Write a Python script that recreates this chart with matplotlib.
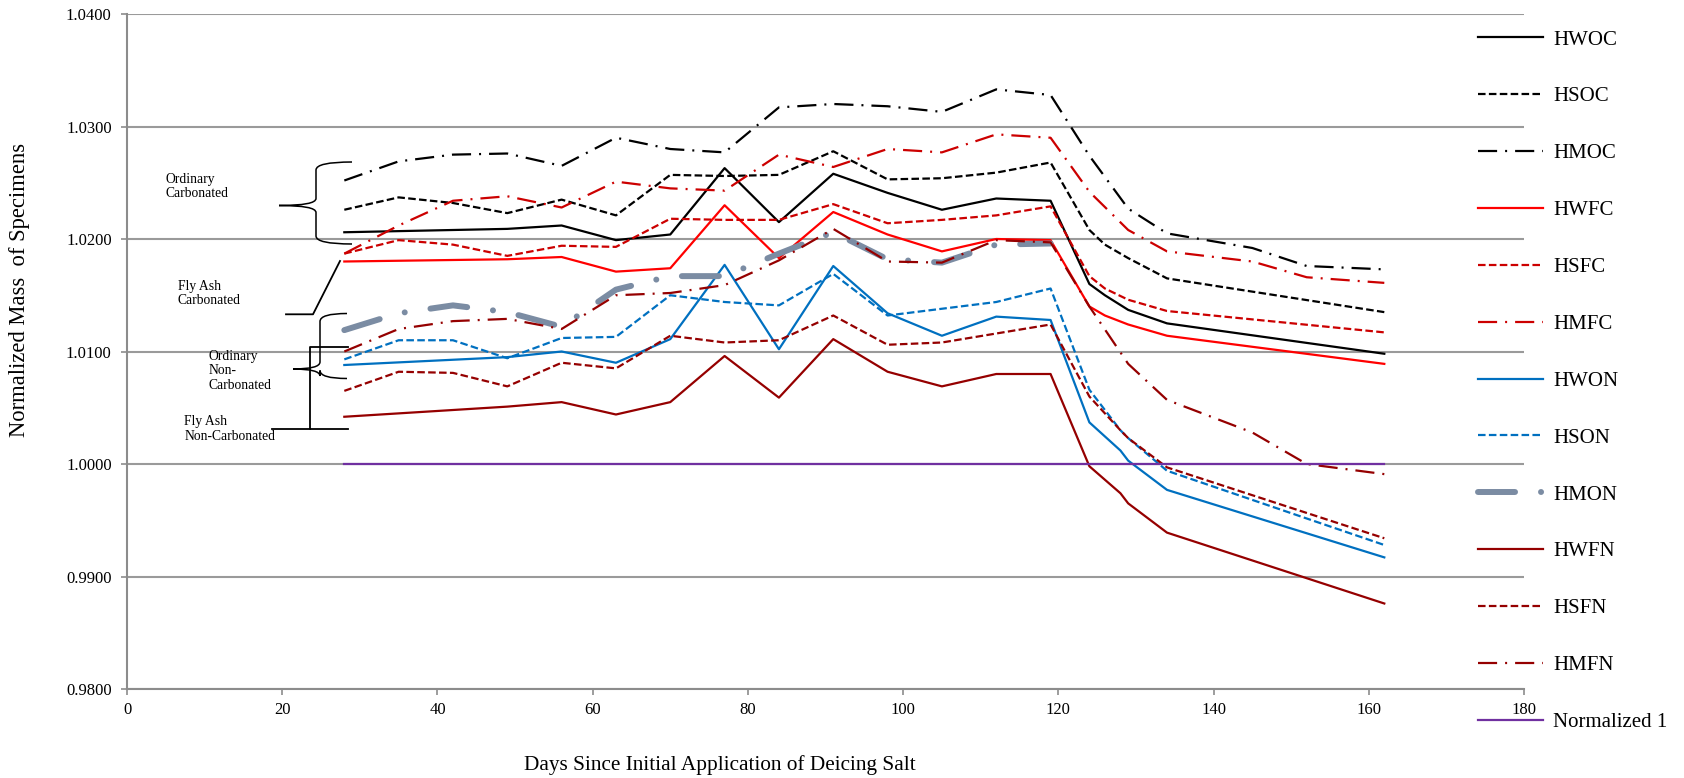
import matplotlib
matplotlib.use("Agg")
import matplotlib.pyplot as plt
import numpy as np
from matplotlib.path import Path
from matplotlib.patches import PathPatch
from matplotlib.lines import Line2D

plt.rcParams['font.family'] = ['Liberation Serif', 'DejaVu Serif']

# ---------------- data ----------------
days_wc = [28, 49, 56, 63, 70, 77, 84, 91, 98, 105, 112, 119, 124, 126, 129, 134, 162]
days_sc = [28, 35, 42, 49, 56, 63, 70, 77, 84, 91, 98, 105, 112, 119, 124, 126, 129, 134, 162]
days_m = [28, 35, 42, 49, 56, 63, 70, 77, 84, 91, 98, 105, 112, 119, 124, 129, 134, 145, 152, 162]
days_wn = [28, 49, 56, 63, 70, 77, 84, 91, 98, 105, 112, 119, 124, 128, 129, 134, 162]
days_sn = [28, 35, 42, 49, 56, 63, 70, 77, 84, 91, 98, 105, 112, 119, 124, 128, 129, 134, 162]
days_hmon = [28, 35, 42, 49, 56, 63, 70, 77, 84, 91, 98, 105, 112, 119]
days_norm = [28, 162]

HWOC = [1.0206, 1.0209, 1.0212, 1.0199, 1.0204, 1.0263, 1.0215, 1.0258, 1.0241, 1.0226, 1.0236, 1.0234,
        1.0160, 1.0150, 1.0137, 1.0125, 1.0098]
HSOC = [1.0226, 1.0237, 1.0232, 1.0223, 1.0235, 1.0221, 1.0257, 1.0256, 1.0257, 1.0278, 1.0253, 1.0254, 1.0259, 1.0268,
        1.0208, 1.0195, 1.0183, 1.0165, 1.0135]
HMOC = [1.0252, 1.0269, 1.0275, 1.0276, 1.0265, 1.0290, 1.0280, 1.0277, 1.0317, 1.0320, 1.0318, 1.0313, 1.0333, 1.0328,
        1.0274, 1.0227, 1.0205, 1.0192, 1.0176, 1.0173]
HWFC = [1.0180, 1.0182, 1.0184, 1.0171, 1.0174, 1.0230, 1.0183, 1.0224, 1.0204, 1.0189, 1.0200, 1.0199,
        1.0140, 1.0132, 1.0124, 1.0114, 1.0089]
HSFC = [1.0187, 1.0199, 1.0195, 1.0185, 1.0194, 1.0193, 1.0218, 1.0217, 1.0217, 1.0231, 1.0214, 1.0217, 1.0221, 1.0229,
        1.0167, 1.0156, 1.0146, 1.0136, 1.0117]
HMFC = [1.0187, 1.0212, 1.0234, 1.0238, 1.0228, 1.0251, 1.0245, 1.0243, 1.0275, 1.0264, 1.0280, 1.0277, 1.0293, 1.0290,
        1.0242, 1.0208, 1.0189, 1.0180, 1.0166, 1.0161]
HWON = [1.0088, 1.0095, 1.0100, 1.0090, 1.0111, 1.0177, 1.0102, 1.0176, 1.0134, 1.0114, 1.0131, 1.0128,
        1.0037, 1.0012, 1.0003, 0.9977, 0.9917]
HSON = [1.0093, 1.0110, 1.0110, 1.0094, 1.0112, 1.0113, 1.0150, 1.0144, 1.0141, 1.0169, 1.0132, 1.0138, 1.0144, 1.0156,
        1.0066, 1.0030, 1.0023, 0.9994, 0.9928]
HMON = [1.0119, 1.0134, 1.0141, 1.0135, 1.0122, 1.0155, 1.0167, 1.0167, 1.0187, 1.0206, 1.0182, 1.0179, 1.0195, 1.0196]
HWFN = [1.0042, 1.0051, 1.0055, 1.0044, 1.0055, 1.0096, 1.0059, 1.0111, 1.0082, 1.0069, 1.0080, 1.0080,
        0.9998, 0.9974, 0.9965, 0.9939, 0.9876]
HSFN = [1.0065, 1.0082, 1.0081, 1.0069, 1.0090, 1.0085, 1.0114, 1.0108, 1.0110, 1.0132, 1.0106, 1.0108, 1.0116, 1.0124,
        1.0060, 1.0030, 1.0023, 0.9997, 0.9934]
HMFN = [1.0100, 1.0120, 1.0127, 1.0129, 1.0120, 1.0150, 1.0152, 1.0159, 1.0181, 1.0209, 1.0180, 1.0179, 1.0199, 1.0197,
        1.0140, 1.0089, 1.0057, 1.0028, 1.0000, 0.9991]
NORM = [1.0, 1.0]

y_ticks = [0.98, 0.99, 1.00, 1.01, 1.02, 1.03, 1.04]
x_ticks = [0, 20, 40, 60, 80, 100, 120, 140, 160, 180]

# ---------------- styles ----------------
BLACK = '#000000'
RED = '#FF0000'
RED2 = '#CC0000'
BLUE = '#0070C0'
GRAY = '#7B8CA3'
DRED = '#950000'
PURPLE = '#7030A0'

LW = 1.6
DASH = (0, (3.4, 1.5))
DASHDOT = (0, (8.6, 3.6, 0.9, 3.6))

series = [
    ('HWOC', days_wc, HWOC, BLACK, 'solid'),
    ('HSOC', days_sc, HSOC, BLACK, DASH),
    ('HMOC', days_m, HMOC, BLACK, DASHDOT),
    ('HWFC', days_wc, HWFC, RED, 'solid'),
    ('HSFC', days_sc, HSFC, RED2, DASH),
    ('HMFC', days_m, HMFC, RED2, DASHDOT),
    ('HWON', days_wn, HWON, BLUE, 'solid'),
    ('HSON', days_sn, HSON, BLUE, DASH),
    ('HMON', days_hmon, HMON, GRAY, None),
    ('HWFN', days_wn, HWFN, DRED, 'solid'),
    ('HSFN', days_sn, HSFN, DRED, DASH),
    ('HMFN', days_m, HMFN, DRED, DASHDOT),
    ('Normalized 1', days_norm, NORM, PURPLE, 'solid'),
]

W, H = 1684, 778
fig = plt.figure(figsize=(W / 100, H / 100), dpi=100)
ax = fig.add_axes([127 / W, 1 - 689 / H, (1524 - 127) / W, (689 - 14) / H])

handles = []
for name, xs, ys, col, ls in series:
    if name == 'HMON':
        ln, = ax.plot(xs, ys, color=col, lw=4.3, solid_capstyle='round',
                      dash_capstyle='round', label=name)
        ln.set_dashes((6.2, 4.35, 0.01, 4.35))
    else:
        ln, = ax.plot(xs, ys, color=col, lw=LW, linestyle=ls, label=name)
    handles.append(ln)

ax.set_xlim(0, 180)
ax.set_ylim(0.98, 1.04)
ax.set_xticks(x_ticks)
ax.set_xticklabels([str(v) for v in x_ticks])
ax.set_yticks(y_ticks)
ax.set_yticklabels(['%.4f' % v for v in y_ticks])
ax.yaxis.grid(True, color='#9a9a9a', lw=1.5)
ax.set_axisbelow(True)
for s in ['top', 'right']:
    ax.spines[s].set_visible(False)
for s in ['left', 'bottom']:
    ax.spines[s].set_color('#8c8c8c')
    ax.spines[s].set_linewidth(1.5)
ax.tick_params(axis='both', colors='#8c8c8c', labelcolor='black', labelsize=12,
               length=4, width=1.2, direction='out')
ax.tick_params(axis='y', pad=7)
ax.tick_params(axis='x', pad=5)

# axis titles
fig.text(20 / W, 1 - 290 / H, 'Normalized Mass  of Specimens', rotation=90,
         ha='center', va='center', fontsize=16.3)
fig.text(720 / W, 1 - 765 / H, 'Days Since Initial Application of Deicing Salt',
         ha='center', va='center', fontsize=15.3)

# legend
ax.legend(handles=handles, loc='upper left', bbox_to_anchor=(1478 / W, 1 - 30 / H),
          bbox_transform=fig.transFigure, frameon=False, fontsize=15,
          handlelength=3.1, handletextpad=0.5, labelspacing=1.79,
          borderpad=0, borderaxespad=0)

# ---------------- group annotations ----------------
def P(x, y):
    return (x / W, 1 - y / H)


def brace(x_tip, x_sp, x_nose, y_top, y_mid, y_bot, k=7):
    r = 8
    pts = [P(x_tip, y_top), P(x_sp, y_top), P(x_sp, y_top + r),
           P(x_sp, y_mid - k), P(x_sp, y_mid), P(x_nose, y_mid),
           P(x_sp, y_mid), P(x_sp, y_mid + k),
           P(x_sp, y_bot - r), P(x_sp, y_bot), P(x_tip, y_bot)]
    codes = [Path.MOVETO, Path.CURVE3, Path.CURVE3,
             Path.LINETO, Path.CURVE3, Path.CURVE3,
             Path.CURVE3, Path.CURVE3,
             Path.LINETO, Path.CURVE3, Path.CURVE3]
    fig.add_artist(PathPatch(Path(pts, codes), fill=False, lw=1.1, ec='black',
                             transform=fig.transFigure))


def poly(xs, ys):
    fx = [x / W for x in xs]
    fy = [1 - y / H for y in ys]
    fig.add_artist(Line2D(fx, fy, color='black', lw=1.3, transform=fig.transFigure))


brace(352, 316, 279, 162, 205.5, 244)
brace(347, 320, 293, 313.5, 369, 378.5)
poly([286, 313, 340], [314.3, 314.3, 261])
poly([348, 310, 310, 348], [346.7, 346.7, 429, 429])
poly([272, 310], [429, 429])

afs = 9.8
fig.text(*P(165.7, 186.5), 'Ordinary\nCarbonated', ha='left', va='center', fontsize=afs, linespacing=1.15)
fig.text(*P(177.7, 293.7), 'Fly Ash\nCarbonated', ha='left', va='center', fontsize=afs, linespacing=1.15)
fig.text(*P(208.3, 371), 'Ordinary\nNon-\nCarbonated', ha='left', va='center', fontsize=afs, linespacing=1.15)
fig.text(*P(184.3, 429), 'Fly Ash\nNon-Carbonated', ha='left', va='center', fontsize=afs, linespacing=1.15)

fig.savefig('out.png', dpi=100)
